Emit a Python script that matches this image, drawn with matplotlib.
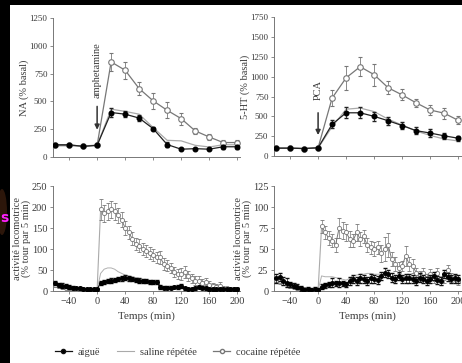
import matplotlib
matplotlib.use("Agg")
import matplotlib.pyplot as plt
from matplotlib.patches import Rectangle, Ellipse
from matplotlib.lines import Line2D

plt.rcParams['font.family'] = ['Liberation Serif', 'DejaVu Serif']

# microdialyse, un point toutes les 20 min
t_dialyse = [-60, -40, -20, 0, 20, 40, 60, 80, 100, 120, 140, 160, 180, 200]

na_aigue = [110, 110, 95, 105, 400, 385, 350, 255, 112, 70, 75, 70, 92, 92]
na_aigue_err = [10, 10, 8, 8, 40, 25, 30, 15, 20, 10, 8, 10, 18, 18]
na_saline = [100, 100, 100, 105, 430, 410, 385, 265, 150, 145, 105, 90, 110, 110]
na_cocaine = [105, 105, 100, 105, 855, 780, 615, 505, 420, 345, 235, 180, 130, 130]
na_cocaine_err = [10, 10, 8, 8, 80, 75, 60, 70, 70, 55, 25, 30, 20, 20]

ht_aigue = [100, 100, 95, 105, 400, 545, 545, 500, 445, 385, 320, 290, 255, 225]
ht_aigue_err = [8, 8, 8, 8, 50, 70, 70, 60, 50, 40, 40, 45, 40, 30]
ht_saline = [100, 100, 95, 100, 370, 590, 605, 560, 465, 390, 315, 260, 215, 190]
ht_cocaine = [100, 100, 95, 105, 730, 985, 1125, 1025, 860, 770, 670, 580, 540, 450]
ht_cocaine_err = [8, 8, 8, 8, 100, 150, 120, 140, 80, 70, 50, 60, 70, 50]

# activite locomotrice, un point toutes les 5 min
t_loco = [-60, -55, -50, -45, -40, -35, -30, -25, -20, -15, -10, -5, 0,
          5, 10, 15, 20, 25, 30, 35, 40, 45, 50, 55, 60, 65, 70, 75, 80,
          85, 90, 95, 100, 105, 110, 115, 120, 125, 130, 135, 140, 145, 150,
          155, 160, 165, 170, 175, 180, 185, 190, 195, 200]

amph_aigue = [20, 15, 13, 12, 10, 8, 7, 6, 5, 4, 4, 4, 4,
              20, 22, 24, 25, 27, 28, 30, 32, 30, 28, 27, 25, 24, 23, 22, 22,
              21, 10, 8, 8, 8, 9, 10, 12, 6, 5, 5, 6, 9, 8,
              6, 4, 4, 4, 5, 5, 5, 4, 4, 4]
amph_saline = [13, 11, 9, 8, 7, 6, 5, 4, 4, 3, 3, 3, 3,
               42, 52, 55, 55, 52, 46, 42, 38, 36, 34, 32, 30, 28, 27, 25, 24,
               22, 14, 10, 9, 9, 9, 10, 11, 8, 7, 7, 7, 9, 9,
               7, 6, 5, 5, 6, 6, 5, 5, 5, 5]
amph_cocaine = [15, 12, 10, 8, 8, 6, 5, 4, 4, 3, 3, 3, 3,
                195, 185, 190, 195, 190, 180, 170, 150, 140, 125, 112, 108, 100, 95, 90, 85,
                80, 80, 65, 60, 55, 45, 40, 40, 45, 35, 30, 25, 25, 20,
                22, 15, 12, 10, 12, 8, 6, 5, 5, 5]
amph_cocaine_err = [5, 4, 4, 3, 3, 3, 2, 2, 2, 2, 2, 2, 2,
                    25, 20, 20, 20, 20, 18, 18, 16, 16, 15, 15, 15, 14, 14, 14, 14,
                    14, 16, 14, 13, 12, 12, 12, 14, 14, 12, 10, 10, 10, 8,
                    8, 8, 6, 6, 10, 5, 4, 4, 4, 4]

pca_aigue = [15, 17, 12, 10, 8, 6, 5, 3, 1, 2, 1, 2, 1,
             5, 7, 8, 10, 9, 10, 9, 8, 12, 14, 12, 15, 14, 12, 15, 14,
             13, 18, 22, 20, 16, 14, 18, 14, 15, 15, 14, 12, 16, 14,
             12, 14, 18, 13, 12, 20, 17, 14, 15, 14]
pca_saline = [10, 10, 9, 8, 7, 5, 4, 3, 2, 2, 1, 2, 1,
              18, 17, 17, 17, 16, 15, 14, 13, 15, 18, 19, 20, 20, 21, 21, 20,
              20, 20, 19, 17, 17, 17, 17, 17, 18, 18, 18, 18, 19, 19,
              20, 20, 19, 18, 17, 17, 16, 16, 15, 15]
pca_cocaine = [13, 12, 10, 8, 6, 5, 4, 3, 2, 2, 1, 1, 1,
               77, 70, 63, 60, 55, 75, 72, 70, 62, 60, 70, 62, 65, 55, 52, 50,
               52, 45, 50, 55, 38, 32, 28, 30, 42, 32, 30, 22, 18, 22,
               15, 20, 14, 22, 12, 15, 25, 16, 14, 12]
pca_cocaine_err = [4, 4, 3, 3, 3, 2, 2, 2, 1, 1, 1, 1, 1,
                   8, 8, 8, 8, 8, 12, 10, 10, 10, 8, 10, 8, 8, 8, 8, 8,
                   8, 10, 14, 14, 8, 8, 6, 6, 12, 8, 8, 6, 6, 6,
                   5, 6, 5, 6, 5, 5, 6, 5, 5, 5]

GRIS = '#777777'
TEXTE = '#3a3a3a'
xmin, xmax = -63, 204

fig = plt.figure(figsize=(4.62, 3.63), dpi=100)
fig.patch.set_facecolor('black')
# fond blanc de la diapo, derriere les axes
fig.add_artist(Rectangle((10 / 462, 0), 1, 1 - 5 / 363, transform=fig.transFigure,
                         facecolor='white', edgecolor='none', zorder=-5))
fig.add_artist(Ellipse((2 / 462, 1 - 212 / 363), 10 / 462, 46 / 363, transform=fig.transFigure,
                       facecolor='#2c160a', edgecolor='none', zorder=-4))
fig.text(0.0, 1 - 218 / 363, 's', color='#ff20ff', fontsize=10, fontweight='bold',
         family='DejaVu Sans', ha='left', va='center', zorder=-3)

ax_na = fig.add_axes([0.1147, 0.5675, 0.4048, 0.383])
ax_ht = fig.add_axes([0.593, 0.570, 0.4048, 0.383])
ax_la = fig.add_axes([0.1147, 0.1983, 0.4048, 0.289])
ax_lp = fig.add_axes([0.593, 0.1983, 0.4048, 0.289])


def style(ax, ylim, yticks, xlabels, size):
    ax.set_facecolor('none')
    ax.set_xlim(xmin, xmax)
    ax.set_ylim(0, ylim)
    ax.set_yticks(yticks)
    ax.set_xticks([-40, 0, 40, 80, 120, 160, 200])
    if not xlabels:
        ax.set_xticklabels([])
    for s in ['top', 'right']:
        ax.spines[s].set_visible(False)
    for s in ['left', 'bottom']:
        ax.spines[s].set_color(GRIS)
        ax.spines[s].set_linewidth(0.7)
    ax.tick_params(direction='out', length=2.5, width=0.6, color=GRIS,
                   labelcolor=TEXTE, labelsize=size, pad=1.5)


def dialyse(ax, aigue, aigue_err, saline, cocaine, cocaine_err):
    ax.plot(t_dialyse, saline, color='#aaaaaa', lw=0.9, zorder=2)
    ax.errorbar(t_dialyse, cocaine, yerr=cocaine_err, color=GRIS, lw=0.9, marker='o', ms=4,
                mfc='white', mec=GRIS, mew=0.8, elinewidth=0.6, capsize=1.5, zorder=3)
    ax.errorbar(t_dialyse, aigue, yerr=aigue_err, color='#222222', lw=0.9, marker='o', ms=3.3,
                mfc='black', mec='black', elinewidth=0.6, capsize=1.5, zorder=4)


def loco(ax, aigue, saline, cocaine, cocaine_err):
    aigue_err = [3 if a < 10 else 5 for a in aigue]
    ax.plot(t_loco, saline, color='#b0b0b0', lw=0.7, zorder=2)
    ax.errorbar(t_loco[13:], cocaine[13:], yerr=cocaine_err[13:], color=GRIS, lw=0.7, marker='o',
                ms=3, mfc='white', mec=GRIS, mew=0.6, elinewidth=0.5, capsize=1.2, zorder=3)
    ax.errorbar(t_loco[:13], cocaine[:13], yerr=cocaine_err[:13], color=GRIS, lw=0.7, marker='o',
                ms=3, mfc='white', mec=GRIS, mew=0.6, elinewidth=0.5, capsize=1.2, zorder=3)
    ax.plot([0, 5], [cocaine[12], cocaine[13]], color='#aaaaaa', lw=0.8, zorder=2)
    ax.errorbar(t_loco, aigue, yerr=aigue_err, color='#111111', lw=0.8, marker='o', ms=2.6,
                mfc='black', mec='black', elinewidth=0.5, capsize=1.2, zorder=4)


dialyse(ax_na, na_aigue, na_aigue_err, na_saline, na_cocaine, na_cocaine_err)
style(ax_na, 1250, [0, 250, 500, 750, 1000, 1250], False, 6.5)
ax_na.set_ylabel('NA (% basal)', color=TEXTE, fontsize=7.5, labelpad=0.5)
ax_na.annotate('', xy=(0, 220), xytext=(0, 480),
               arrowprops=dict(arrowstyle='-|>', color='#333333', lw=1.1, mutation_scale=7))
ax_na.text(0, 530, 'amphetamine', rotation=90, ha='center', va='bottom',
           fontsize=7.5, color=TEXTE)

dialyse(ax_ht, ht_aigue, ht_aigue_err, ht_saline, ht_cocaine, ht_cocaine_err)
style(ax_ht, 1750, [0, 250, 500, 750, 1000, 1250, 1500, 1750], False, 6.5)
ax_ht.set_ylabel('5-HT (% basal)', color=TEXTE, fontsize=7.5, labelpad=0.5)
ax_ht.annotate('', xy=(0, 230), xytext=(0, 580),
               arrowprops=dict(arrowstyle='-|>', color='#333333', lw=1.1, mutation_scale=7))
ax_ht.text(0, 700, 'PCA', rotation=90, ha='center', va='bottom',
           fontsize=7.5, color=TEXTE)

loco(ax_la, amph_aigue, amph_saline, amph_cocaine, amph_cocaine_err)
style(ax_la, 250, [0, 50, 100, 150, 200, 250], True, 7.5)
ax_la.set_ylabel('activité locomotrice\n(% tour par 5 min)', color=TEXTE, fontsize=7.5,
                 labelpad=0.5, linespacing=1.0)
ax_la.set_xlabel('Temps (min)', color=TEXTE, fontsize=8, labelpad=4)

loco(ax_lp, pca_aigue, pca_saline, pca_cocaine, pca_cocaine_err)
style(ax_lp, 125, [0, 25, 50, 75, 100, 125], True, 7.5)
ax_lp.set_ylabel('activité locomotrice\n(% tour par 5 min)', color=TEXTE, fontsize=7.5,
                 labelpad=0.5, linespacing=1.0)
ax_lp.set_xlabel('Temps (min)', color=TEXTE, fontsize=8, labelpad=4)

handles = [
    Line2D([], [], color='#111111', lw=0.9, marker='o', ms=3, mfc='black'),
    Line2D([], [], color='#aaaaaa', lw=0.8),
    Line2D([], [], color=GRIS, lw=0.9, marker='o', ms=3, mfc='white', mec=GRIS),
]
leg = fig.legend(handles, ['aiguë', 'saline répétée', 'cocaine répétée'], loc='center',
                 bbox_to_anchor=(0.385, 0.03), ncol=3, frameon=False, fontsize=7.5,
                 handlelength=1.6, handletextpad=0.6, columnspacing=1.6)
for t in leg.get_texts():
    t.set_color(TEXTE)

fig.savefig('out.png', dpi=100, facecolor=fig.get_facecolor())
